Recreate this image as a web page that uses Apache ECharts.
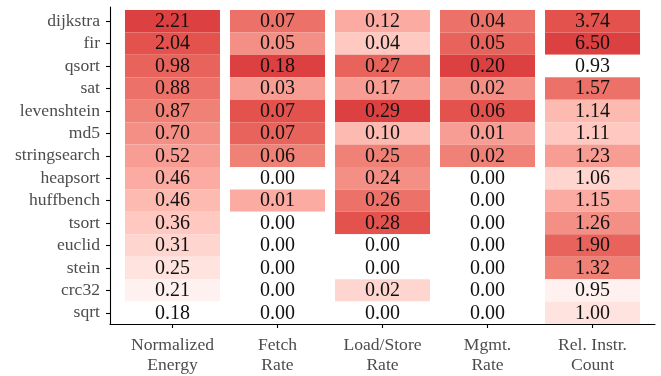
<!DOCTYPE html>
<html>
<head>
<meta charset="utf-8">
<script src="https://cdn.jsdelivr.net/npm/echarts@6/dist/echarts.min.js"></script>
<style>
  html, body { margin: 0; padding: 0; background: #ffffff; }
  #chart { width: 661px; height: 376px; }
</style>
</head>
<body>
<div id="chart"></div>
<script>
// Benchmarks (rows, top to bottom) and metrics (columns)
const benchmarks = ['dijkstra', 'fir', 'qsort', 'sat', 'levenshtein', 'md5', 'stringsearch',
  'heapsort', 'huffbench', 'tsort', 'euclid', 'stein', 'crc32', 'sqrt'];
const metrics = ['Normalized\nEnergy', 'Fetch\nRate', 'Load/Store\nRate', 'Mgmt.\nRate', 'Rel. Instr.\nCount'];

// Per-benchmark values for each metric (shown rounded to two decimals)
const normalizedEnergy = [2.21, 2.04, 0.98, 0.88, 0.87, 0.70, 0.52, 0.462, 0.458, 0.36, 0.31, 0.25, 0.21, 0.18];
const fetchRate        = [0.068, 0.05, 0.18, 0.03, 0.074, 0.071, 0.06, 0, 0.01, 0, 0, 0, 0, 0];
const loadStoreRate    = [0.12, 0.04, 0.27, 0.17, 0.29, 0.10, 0.25, 0.24, 0.26, 0.28, 0, 0, 0.02, 0];
const mgmtRate         = [0.04, 0.05, 0.20, 0.018, 0.06, 0.01, 0.022, 0, 0, 0, 0, 0, 0, 0];
const relInstrCount    = [3.74, 6.50, 0.93, 1.57, 1.14, 1.11, 1.23, 1.06, 1.15, 1.26, 1.90, 1.32, 0.95, 1.00];

const columns = [normalizedEnergy, fetchRate, loadStoreRate, mgmtRate, relInstrCount];

// Fill intensity is the within-column percent rank: (min rank - 1) / (n - 1)
function percentRank(arr) {
  const n = arr.length;
  return arr.map(v => {
    const below = arr.filter(w => w < v).length;
    return n > 1 ? below / (n - 1) : 0;
  });
}

const cells = [];
columns.forEach((col, c) => {
  const scaled = percentRank(col);
  col.forEach((v, r) => cells.push([c, r, v, scaled[r]]));
});

// White-to-red ramp interpolated in CIELAB, sampled into gradient stops
function hexToRgb(h) { return [1, 3, 5].map(i => parseInt(h.substr(i, 2), 16)); }
function srgbToLin(c) { c /= 255; return c <= 0.04045 ? c / 12.92 : Math.pow((c + 0.055) / 1.055, 2.4); }
function linToSrgb(c) { const v = c <= 0.0031308 ? 12.92 * c : 1.055 * Math.pow(c, 1 / 2.4) - 0.055; return Math.max(0, Math.min(255, Math.round(v * 255))); }
const WP = [0.95047, 1, 1.08883];
function rgbToLab(rgb) {
  const [r, g, b] = rgb.map(srgbToLin);
  const xyz = [0.4124 * r + 0.3576 * g + 0.1805 * b, 0.2126 * r + 0.7152 * g + 0.0722 * b, 0.0193 * r + 0.1192 * g + 0.9505 * b];
  const f = t => (t > 216 / 24389 ? Math.cbrt(t) : (24389 / 27 * t + 16) / 116);
  const [fx, fy, fz] = xyz.map((v, i) => f(v / WP[i]));
  return [116 * fy - 16, 500 * (fx - fy), 200 * (fy - fz)];
}
function labToHex(lab) {
  const fy = (lab[0] + 16) / 116, fx = fy + lab[1] / 500, fz = fy - lab[2] / 200;
  const inv = t => (t * t * t > 216 / 24389 ? t * t * t : (116 * t - 16) / (24389 / 27));
  const [X, Y, Z] = [inv(fx) * WP[0], inv(fy) * WP[1], inv(fz) * WP[2]];
  const r = 3.2406 * X - 1.5372 * Y - 0.4986 * Z;
  const g = -0.9689 * X + 1.8758 * Y + 0.0415 * Z;
  const b = 0.0557 * X - 0.2040 * Y + 1.0570 * Z;
  return '#' + [r, g, b].map(linToSrgb).map(v => v.toString(16).padStart(2, '0')).join('');
}
function labRamp(lowHex, highHex, n) {
  const a = rgbToLab(hexToRgb(lowHex)), b = rgbToLab(hexToRgb(highHex));
  const out = [];
  for (let i = 0; i <= n; i++) {
    const t = i / n;
    out.push(labToHex(a.map((v, k) => v + (b[k] - v) * t)));
  }
  return out;
}
const fillRamp = labRamp('#ffffff', '#dd4040', 20);

const serif = '"Liberation Serif", "DejaVu Serif", serif';
const chart = echarts.init(document.getElementById('chart'), null, { renderer: 'canvas' });

chart.setOption({
  backgroundColor: '#ffffff',
  animation: false,
  grid: { left: 110, right: 6, top: 7, bottom: 52 },
  xAxis: {
    type: 'value',
    min: -0.595,
    max: 4.595,
    splitLine: { show: false },
    axisLine: { show: true, onZero: false, lineStyle: { color: '#000000', width: 1.1 } },
    axisTick: { show: true, length: 4, customValues: [0, 1, 2, 3, 4],
      lineStyle: { color: '#000000', width: 1.1 } },
    axisLabel: {
      customValues: [0, 1, 2, 3, 4],
      formatter: v => metrics[Math.round(v)],
      fontFamily: serif, fontSize: 17.6, color: '#4d4d4d',
      lineHeight: 20, margin: 11
    }
  },
  yAxis: {
    type: 'value',
    inverse: true,
    min: -0.634,
    max: 13.5,
    splitLine: { show: false },
    axisLine: { show: true, onZero: false, lineStyle: { color: '#000000', width: 1.1 } },
    axisTick: { show: true, length: 4, customValues: benchmarks.map((_, i) => i),
      lineStyle: { color: '#000000', width: 1.1 } },
    axisLabel: {
      customValues: benchmarks.map((_, i) => i),
      formatter: v => benchmarks[Math.round(v)],
      fontFamily: serif, fontSize: 17.6, color: '#4d4d4d', margin: 10
    }
  },
  visualMap: {
    show: false,
    type: 'continuous',
    dimension: 3,
    min: 0,
    max: 1,
    seriesIndex: 0,
    inRange: { color: fillRamp }
  },
  series: [{
    type: 'custom',
    coordinateSystem: 'cartesian2d',
    data: cells,
    encode: { x: 0, y: 1 },
    z: 1,
    renderItem: function (params, api) {
      const x = api.value(0), y = api.value(1), v = api.value(2);
      const halfW = 0.4524;
      const p0 = api.coord([x - halfW, y - 0.5]);
      const p1 = api.coord([x + halfW, y + 0.5]);
      const center = api.coord([x, y]);
      return {
        type: 'group',
        children: [{
          type: 'rect',
          shape: { x: p0[0], y: p0[1], width: p1[0] - p0[0], height: p1[1] - p0[1] },
          style: { fill: api.visual('color') }
        }, {
          type: 'text',
          x: center[0], y: center[1] + 0.5,
          style: {
            text: v.toFixed(2),
            fontFamily: serif, fontSize: 20, fill: '#111111',
            align: 'center', verticalAlign: 'middle'
          }
        }]
      };
    }
  }]
});
</script>
</body>
</html>
